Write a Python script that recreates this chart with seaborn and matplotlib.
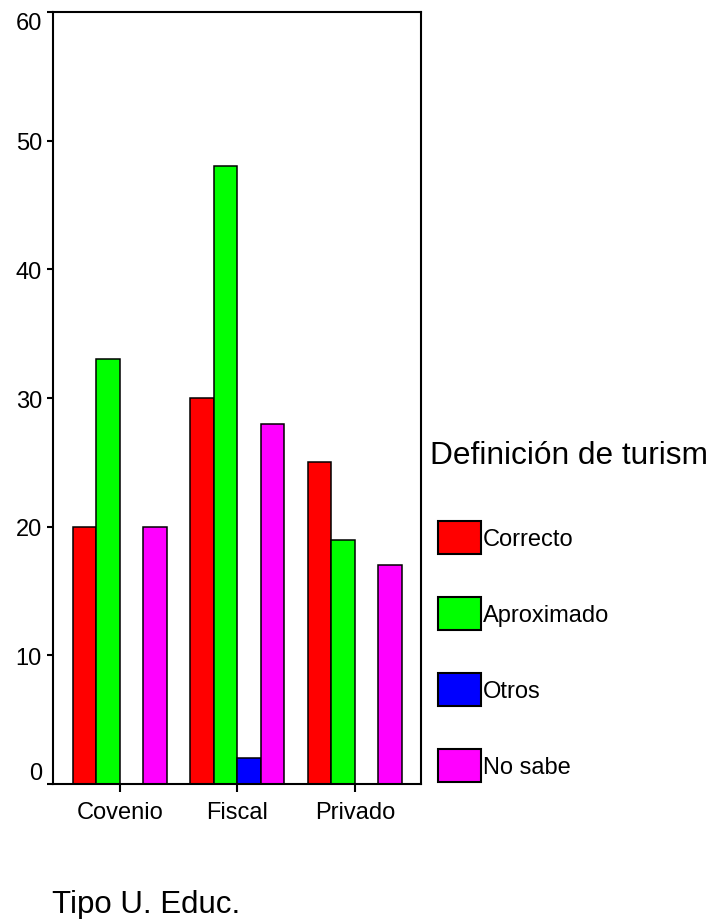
import matplotlib
matplotlib.use("Agg")
import matplotlib.pyplot as plt
import seaborn as sns
import pandas as pd
from matplotlib.patches import Patch

# === Данные ===
categorias = ["Covenio", "Fiscal", "Privado"]
series = ["Correcto", "Aproximado", "Otros", "No sabe"]
correcto = [20, 30, 25]
aproximado = [33, 48, 19]
otros = [0, 2, 0]
no_sabe = [20, 28, 17]
colores = ["#FF0000", "#00FF00", "#0000FF", "#FF00FF"]

df = pd.DataFrame({
    "Tipo": categorias * 4,
    "Definicion": [s for s in series for _ in categorias],
    "n": correcto + aproximado + otros + no_sabe,
})

# === Стиль ===
sns.set_style("white")
plt.rcParams["font.family"] = ["Liberation Sans", "DejaVu Sans"]
plt.rcParams["text.color"] = "black"
plt.rcParams["xtick.color"] = "black"
plt.rcParams["ytick.color"] = "black"

fig = plt.figure(figsize=(7.07, 9.2), dpi=100)
ax = fig.add_axes([53 / 707, 1 - 785 / 920, (421 - 53) / 707, (785 - 13) / 920])

sns.barplot(data=df, x="Tipo", y="n", hue="Definicion", order=categorias,
            hue_order=series, palette=colores, saturation=1, width=0.8,
            edgecolor="black", linewidth=1.1, legend=False, ax=ax, errorbar=None)

ax.set_xlim(-0.57, 2.562)
ax.set_ylim(0, 60)
ax.set_yticks([0, 10, 20, 30, 40, 50, 60])
ax.set_xlabel("")
ax.set_ylabel("")
for s in ax.spines.values():
    s.set_visible(True)
    s.set_linewidth(1.5)
    s.set_color("black")

ax.tick_params(axis="y", left=True, direction="out", length=4, width=1.5,
               labelsize=17, pad=4, labelcolor="black")
ax.tick_params(axis="x", bottom=True, direction="out", length=6, width=1.5,
               labelsize=17, pad=6, labelcolor="black")
ylabels = ax.get_yticklabels()
ylabels[0].set_va("bottom")
ylabels[-1].set_va("top")

# Подпись оси X
fig.text(52 / 707, 1 - 913 / 920, "Tipo U. Educ.", fontsize=22.5, va="baseline",
         ha="left", color="black")

# Легенда (заголовок обрезан краем, как в оригинале)
fig.text(430 / 707, 1 - 464 / 920, "Definición de turism", fontsize=22.8,
         va="baseline", ha="left", color="black")
handles = [Patch(facecolor=c, edgecolor="black", linewidth=1.5) for c in colores]
fig.legend(handles, series, loc="upper left", bbox_to_anchor=(438 / 707, 1 - 522 / 920),
           frameon=False, fontsize=17, borderpad=0, borderaxespad=0,
           handlelength=1.82, handleheight=1.75, labelspacing=1.84,
           handletextpad=0.08, labelcolor="black")

plt.savefig("out.png", dpi=100)
plt.close()
